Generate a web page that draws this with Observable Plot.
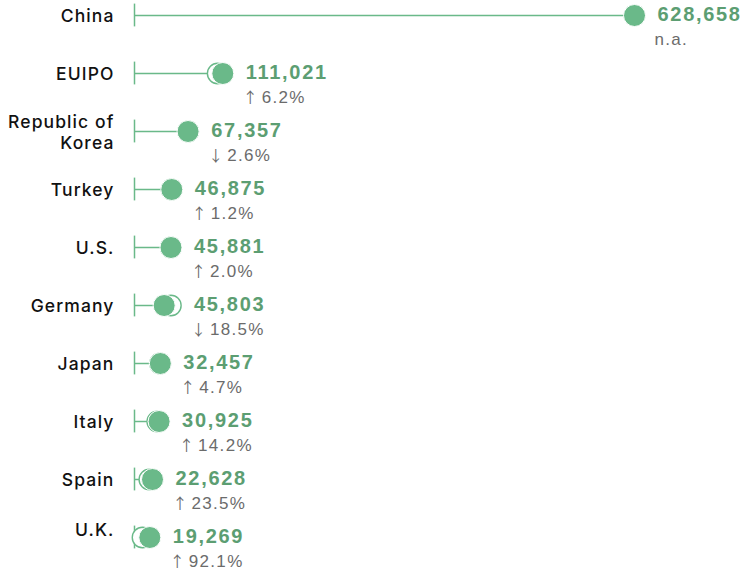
<!DOCTYPE html>
<html>
<head>
<meta charset="utf-8">
<script src="https://cdn.jsdelivr.net/npm/d3@7"></script>
<script src="https://cdn.jsdelivr.net/npm/@observablehq/plot@0.6"></script>
<style>
  html, body { margin: 0; padding: 0; background: #fff; }
  #chart { width: 742px; height: 574px; overflow: hidden; }
  .arrow { font-family: "Noto Sans CJK JP", "DejaVu Sans", sans-serif; font-weight: normal; }
</style>
</head>
<body>
<div id="chart"></div>
<script>
// Trademark filings (labels), plotted positions, previous-year positions and change
const countries = ["China", "EUIPO", "Republic of\nKorea", "Turkey", "U.S.", "Germany", "Japan", "Italy", "Spain", "U.K."];
const filings   = [628658, 111021, 67357, 46875, 45881, 45803, 32457, 30925, 22628, 19269];
const current   = [628658, 111021, 67357, 46875, 45881, 37300, 32457, 30925, 22628, 19269];
const previous  = [null, 104500, 67600, 46600, 45600, 45800, 31900, 28600, 18600, 10000];
const change    = [null, 6.2, -2.6, 1.2, 2.0, -18.5, 4.7, 14.2, 23.5, 92.1];

const rows = countries.map((c, i) => ({
  country: c,
  filing: filings[i],
  current: current[i],
  previous: previous[i],
  change: change[i],
  labelX: Math.max(current[i], previous[i] ?? 0),
  last: i === countries.length - 1
}));

const green = "#6ab989";
const textGreen = "#5c9e72";
const grey = "#6b6b6b";
const fmt = d3.format(",");
const labelStyle = { x: 0, y: "country", text: "country", textAnchor: "end", dx: -20, fontSize: 17.5, fontWeight: 500, fill: "#111", lineHeight: 1.2 };

const svg = Plot.plot({
  width: 742,
  height: 574,
  marginLeft: 0, marginRight: 0, marginTop: 0, marginBottom: 0,
  style: { fontFamily: "'Liberation Sans', Arial, sans-serif", overflow: "visible", background: "white" },
  x: { domain: [0, 628658], range: [134, 634], axis: null },
  y: { type: "band", domain: countries, range: [-15.1, 567.1], padding: 0, axis: null },
  marks: [
    Plot.ruleY(rows, { y: "country", x1: 0, x2: "current", stroke: green, strokeWidth: 1.5 }),
    Plot.tickX(rows, { x: 0, y: "country", stroke: green, strokeWidth: 1.5, insetTop: 17.6, insetBottom: 17.6 }),
    Plot.dot(rows.filter(d => d.previous != null), { x: "previous", y: "country", r: 10.2, fill: "white", stroke: green, strokeWidth: 1.4 }),
    Plot.dot(rows, { x: "current", y: "country", r: 11, fill: green, stroke: "white", strokeWidth: 1 }),
    Plot.text(rows.filter(d => !d.last), labelStyle),
    Plot.text(rows.filter(d => d.last), { ...labelStyle, dy: -8 }),
    Plot.text(rows, { x: "labelX", y: "country", text: d => fmt(d.filing), textAnchor: "start", dx: 23, dy: -1, fontSize: 20, fontWeight: "bold", fill: textGreen }),
    Plot.text(rows, { x: "labelX", y: "country", text: d => d.change == null ? "n.a." : (d.change > 0 ? "\u2191" : "\u2193") + "|" + Math.abs(d.change).toFixed(1) + "%", textAnchor: "start", dx: 20, dy: 24, fontSize: 17, fill: grey })
  ]
});

const texts = d3.select(svg).selectAll("g[aria-label=text]").nodes();
[texts[0], texts[1]].forEach(g => { if (g) { g.style.letterSpacing = "1.1px"; g.style.fontFamily = "Inter, 'Liberation Sans', sans-serif"; } });
if (texts[2]) texts[2].style.letterSpacing = "1.7px";
if (texts[3]) {
  texts[3].style.letterSpacing = "1.3px";
  d3.select(texts[3]).selectAll("text").each(function () {
    const t = this.textContent;
    if (t.includes("|")) {
      const [arrow, rest] = t.split("|");
      const sel = d3.select(this);
      sel.text(null);
      sel.append("tspan").attr("class", "arrow").attr("font-size", 15).attr("letter-spacing", 0).text(arrow);
      sel.append("tspan").attr("dx", 4).text(rest);
    }
  });
}

document.getElementById("chart").appendChild(svg);
</script>
</body>
</html>
